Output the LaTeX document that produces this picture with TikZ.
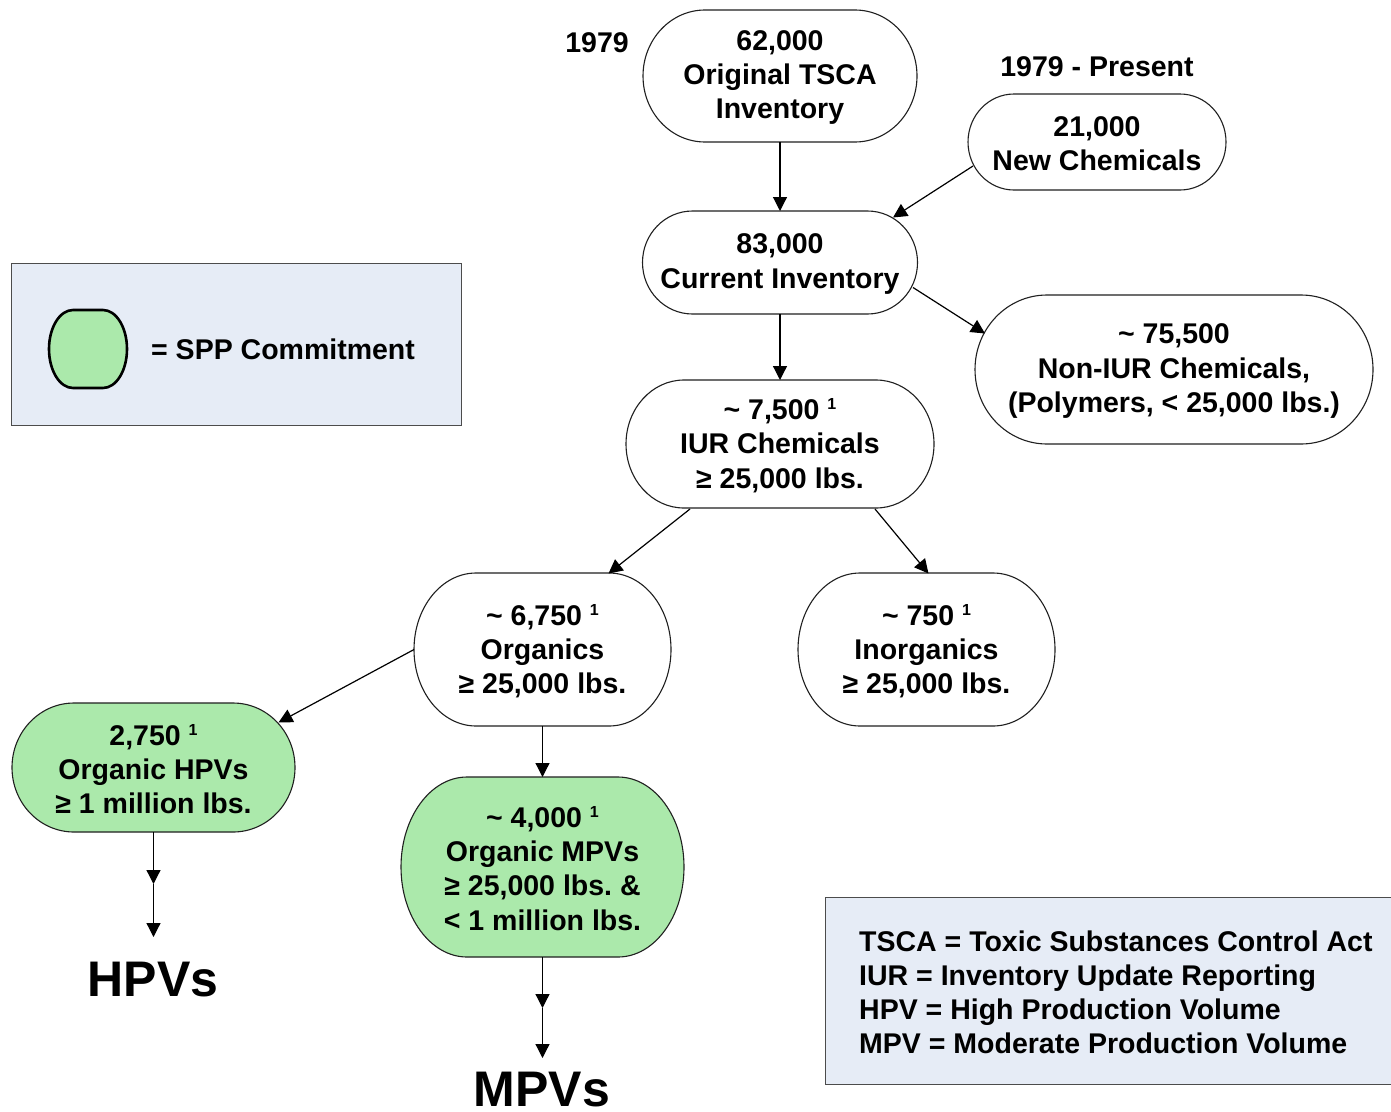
\documentclass[tikz,border=0pt]{standalone}
\usepackage{fontspec}
\setmainfont{Liberation Sans}
\usetikzlibrary{arrows.meta,calc}
\definecolor{sppgreen}{HTML}{ABE9AB}
\definecolor{legendbg}{HTML}{E6ECF6}
\definecolor{boxline}{HTML}{202020}
\tikzset{
  arr/.style={draw=black, line width=1.2pt, -{Triangle[length=14pt,width=14pt]}},
  lbl/.style={font=\fontsize{28.5}{34.2}\selectfont\bfseries, align=center, inner sep=0pt},
  boxnode/.style={inner sep=0pt, outer sep=0pt},
}
% name, cx, cy, w, h, rx, fill, text
\newcommand\cbox[8]{%
  \filldraw[fill=#7, draw=boxline, line width=1.1pt]
    (#2-#4/2,#3) arc[start angle=180,end angle=90,x radius=#6pt,y radius=#5pt/2]
    -- ++(#4-2*#6,0) arc[start angle=90,end angle=-90,x radius=#6pt,y radius=#5pt/2]
    -- ++(-#4+2*#6,0) arc[start angle=270,end angle=180,x radius=#6pt,y radius=#5pt/2] -- cycle;
  \node[boxnode, minimum width=#4pt, minimum height=#5pt] (#1) at (#2,#3) {};
  \node[lbl] (#1-text) at ($(#1.center)+(0,1.5)$) {#8};
}
\newcommand\sone{\ {\fontsize{16}{16}\selectfont\raisebox{10pt}{1}}}
\begin{document}
\begin{tikzpicture}[x=1pt,y=-1pt]
\useasboundingbox (0,0) rectangle (1391,1111);
\fill[white] (0,0) rectangle (1391,1111);

% legend box
\filldraw[fill=legendbg, draw=black!70, line width=1pt] (11,263) rectangle (461,425);
\filldraw[fill=sppgreen, draw=black, line width=2.6pt]
  (49,349) arc[start angle=180,end angle=90,x radius=24pt,y radius=39pt]
  -- ++(30,0) arc[start angle=90,end angle=-90,x radius=24pt,y radius=39pt]
  -- ++(-30,0) arc[start angle=270,end angle=180,x radius=24pt,y radius=39pt] -- cycle;
\node[lbl, anchor=west] (legtext) at (151,349) {= SPP Commitment};

% abbreviation box
\filldraw[fill=legendbg, draw=black!70, line width=1pt] (825,897) rectangle (1395,1084);
\node[lbl, anchor=north west, align=left] (abbr) at (859,930.5) {TSCA = Toxic Substances Control Act\\IUR = Inventory Update Reporting\\HPV = High Production Volume\\MPV = Moderate Production Volume};

% labels
\node[lbl] (y1979) at (597,43) {1979};
\node[lbl] (ypres) at (1097,67) {1979 - Present};

% boxes
\cbox{n62}{780}{76}{274}{132}{62}{white}{62,000\\Original TSCA\\Inventory}
\cbox{n21}{1097}{142}{258}{96}{46}{white}{21,000\\New Chemicals}
\cbox{n83}{780}{262.5}{275}{103}{50}{white}{83,000\\Current Inventory}
\cbox{n75}{1174}{369.5}{398}{149}{72}{white}{\textasciitilde\ 75,500\\Non-IUR Chemicals,\\(Polymers, < 25,000 lbs.)}
\cbox{n7500}{780}{444}{308}{128}{58}{white}{\textasciitilde\ 7,500\sone\\IUR Chemicals\\≥ 25,000 lbs.}
\cbox{n6750}{542.5}{649.5}{257}{153}{62}{white}{\textasciitilde\ 6,750\sone\\Organics\\≥ 25,000 lbs.}
\cbox{n750}{926.5}{649.5}{257}{153}{62}{white}{\textasciitilde\ 750\sone\\Inorganics\\≥ 25,000 lbs.}
\cbox{hpv}{153.5}{767.5}{283}{129}{62}{sppgreen}{2,750\sone\\Organic HPVs\\≥ 1 million lbs.}
\cbox{mpv}{542.5}{867}{283}{180}{66}{sppgreen}{\textasciitilde\ 4,000\sone\\Organic MPVs\\≥ 25,000 lbs.~\&\\< 1 million lbs.}

% big labels
\node[font=\fontsize{50}{50}\selectfont\bfseries, inner sep=0pt] (HPVs) at (153,980) {HPVs};
\node[font=\fontsize{50}{50}\selectfont\bfseries, inner sep=0pt] (MPVs) at (542,1090) {MPVs};

% connectors
\draw[arr] (n62.south) -- (n83.north);
\draw[arr] ($(n21.center)+(-124,24)$) -- ($(n83.center)+(113,-45)$);
\draw[arr] ($(n83.center)+(133,25)$) -- ($(n75.center)+(-189,-36)$);
\draw[arr] (n83.south) -- (n7500.north);
\draw[arr] ($(n7500.center)+(-90,65)$) -- ($(n6750.center)+(66,-76)$);
\draw[arr] ($(n7500.center)+(95,65)$) -- ($(n750.center)+(2,-76)$);
\draw[arr] (n6750.west) -- ($(hpv.center)+(125,-45)$);
\draw[arr] (n6750.south) -- (mpv.north);

\coordinate (h1) at (153.5,884);
\coordinate (h2) at (153.5,937);
\draw[arr] (hpv.south) -- (h1);
\draw[arr] (h1) -- (h2);
\coordinate (m1) at (542.5,1008);
\coordinate (m2) at (542.5,1058);
\draw[arr] (mpv.south) -- (m1);
\draw[arr] (m1) -- (m2);
\end{tikzpicture}
\end{document}
